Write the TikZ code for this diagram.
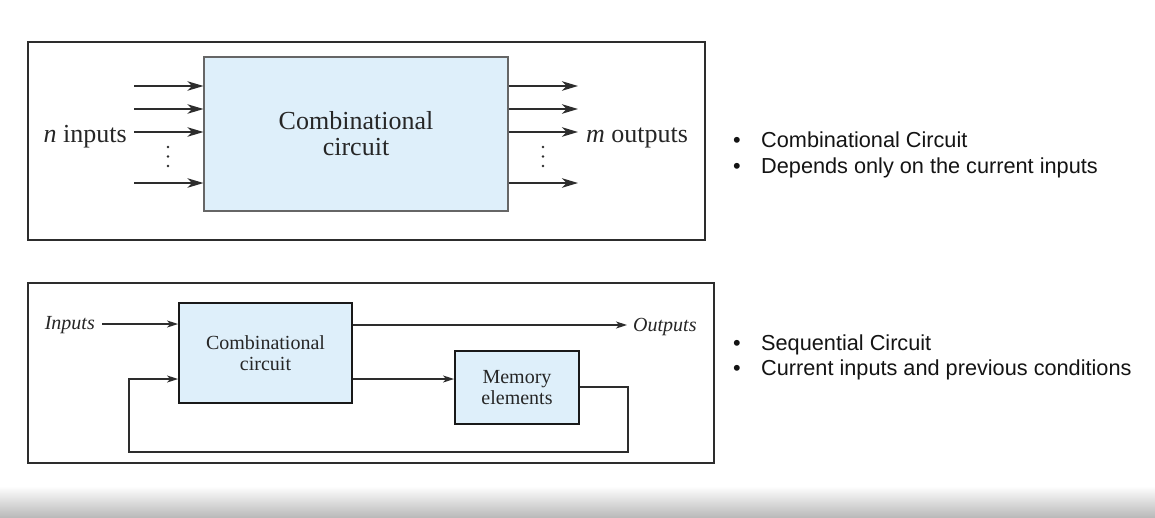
\documentclass[tikz,border=0pt]{standalone}
\usepackage{fontspec}
\newfontfamily\serifrm{Liberation Serif}
\newfontfamily\sansar{Liberation Sans}
\usetikzlibrary{arrows.meta}
\definecolor{boxblue}{RGB}{222,239,250}
\definecolor{inkgray}{RGB}{45,45,45}
\tikzset{
  frameline/.style={draw=inkgray, line width=1.3pt},
  topbox/.style={draw=black!60, line width=1.1pt, fill=boxblue, inner sep=0pt,
    minimum width=304pt, minimum height=154pt, align=center,
    font=\serifrm\fontsize{26}{26}\selectfont, text=black!85},
  botbox/.style={draw=black!90, line width=1.9pt, fill=boxblue, inner sep=0pt,
    align=center, font=\serifrm\fontsize{20}{20.5}\selectfont, text=black!85},
  arrtop/.style={draw=inkgray, line width=1.4pt, -{Stealth[length=16pt,width=9.5pt,inset=4.5pt]}},
  arrbot/.style={draw=inkgray, line width=1.1pt, -{Stealth[length=11pt,width=7pt,inset=3pt]}},
  lbltop/.style={inner sep=0pt, font=\serifrm\fontsize{26}{26}\selectfont, text=black!85},
  lblbot/.style={inner sep=0pt, font=\serifrm\itshape\fontsize{20}{20}\selectfont, text=black!85},
  bullettext/.style={inner sep=0pt, anchor=base west, font=\sansar\fontsize{21.7}{26}\selectfont, text=black!92},
  dotmark/.style={fill=inkgray}
}
\begin{document}
\begin{tikzpicture}[x=1pt,y=-1pt]
\path[use as bounding box, fill=white] (0,0) rectangle (1155,517);
\shade[top color=white, bottom color=black!27] (0,486) rectangle (1155,517);

% ---------- top diagram ----------
\draw[frameline] (28,42) rectangle (705,240);
\node[topbox] (cc) at (356,134) {Combinational\\circuit};

\coordinate (i1) at (134,86);
\coordinate (i2) at (134,109);
\coordinate (i3) at (134,132);
\coordinate (i4) at (134,183);
\foreach \c in {i1,i2,i3,i4} \draw[arrtop] (\c) -- (\c -| cc.west);

\coordinate (o1) at (578,86);
\coordinate (o2) at (578,109);
\coordinate (o3) at (578,132);
\coordinate (o4) at (578,183);
\foreach \c in {o1,o2,o3,o4} \draw[arrtop] (\c -| cc.east) -- (\c);

\foreach \y in {147,156.5,166} {
  \fill[dotmark] (168,\y) circle (1.4);
  \fill[dotmark] (543,\y) circle (1.4);
}

\node[lbltop, anchor=base east] (nin) at (127,142) {{\itshape n} inputs};
\node[lbltop, anchor=base west] (mout) at (586,142) {{\itshape m} outputs};

% ---------- bottom diagram ----------
\draw[frameline] (28,283) rectangle (714,463);
\node[botbox, minimum width=173pt, minimum height=100pt] (comb) at (265.5,353) {Combinational\\circuit};
\node[botbox, minimum width=124pt, minimum height=73pt, font=\serifrm\fontsize{20}{21}\selectfont] (mem) at (517,387.5) {Memory\\elements};

\node[lblbot, anchor=base east] (inl) at (95,329) {Inputs};
\coordinate (inA) at (102,324);
\draw[arrbot] (inA) -- (inA -| comb.west);

\coordinate (outA) at (627,325);
\draw[arrbot] (outA -| comb.east) -- (outA);
\node[lblbot, anchor=base west] (outl) at (633,331) {Outputs};

\coordinate (cm) at (400,379);
\draw[arrbot] (cm -| comb.east) -- (cm -| mem.west);

\coordinate (mr) at (628,387);
\coordinate (fbR) at (628,452);
\coordinate (fbL) at (129,452);
\coordinate (fbU) at (129,379);
\draw[arrbot] (mr -| mem.east) -- (mr) -- (fbR) -- (fbL) -- (fbU) -- (fbU -| comb.west);

% ---------- right text ----------
\node[bullettext] (t1) at (733,147) {\makebox[28pt][l]{•}Combinational Circuit};
\node[bullettext] (t2) at (733,173) {\makebox[28pt][l]{•}Depends only on the current inputs};
\node[bullettext] (t3) at (733,350) {\makebox[28pt][l]{•}Sequential Circuit};
\node[bullettext] (t4) at (733,375) {\makebox[28pt][l]{•}Current inputs and previous conditions};
\end{tikzpicture}
\end{document}
